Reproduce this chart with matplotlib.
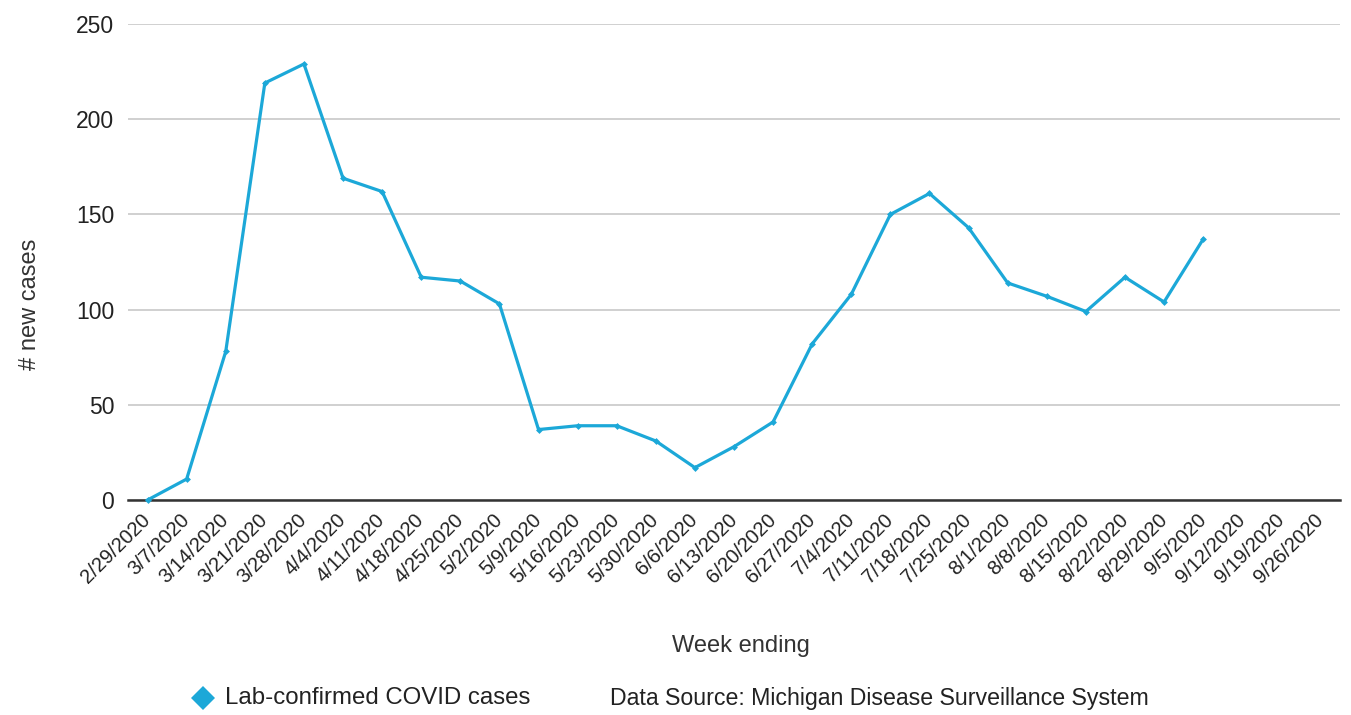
import matplotlib
matplotlib.use("Agg")
import matplotlib.pyplot as plt
from matplotlib.lines import Line2D

plt.rcParams['font.family'] = ['Liberation Sans', 'DejaVu Sans']

weeks = ["2/29/2020", "3/7/2020", "3/14/2020", "3/21/2020", "3/28/2020", "4/4/2020",
         "4/11/2020", "4/18/2020", "4/25/2020", "5/2/2020", "5/9/2020", "5/16/2020",
         "5/23/2020", "5/30/2020", "6/6/2020", "6/13/2020", "6/20/2020", "6/27/2020",
         "7/4/2020", "7/11/2020", "7/18/2020", "7/25/2020", "8/1/2020", "8/8/2020",
         "8/15/2020", "8/22/2020", "8/29/2020", "9/5/2020", "9/12/2020", "9/19/2020",
         "9/26/2020"]
cases = [0, 11, 78, 219, 229, 169, 162, 117, 115, 103, 37, 39, 39, 31, 17, 28, 41,
         82, 108, 150, 161, 143, 114, 107, 99, 117, 104, 137]
yticks = [0, 50, 100, 150, 200, 250]

color = '#1ca8d8'

fig = plt.figure(figsize=(13.51, 7.15), dpi=100)
ax = fig.add_axes([128/1351, 1-500/715, (1340-128)/1351, (500-24)/715])

x = list(range(len(cases)))
ax.plot(x, cases, color=color, lw=2.3, marker='D', markersize=3.5,
        markeredgewidth=0, solid_joinstyle='miter', zorder=3, clip_on=False)

ax.set_xlim(-0.5, len(weeks)-0.5)
ax.set_ylim(0, 250)
ax.set_yticks(yticks)
ax.set_yticklabels([str(v) for v in yticks], fontsize=16.5, color='#222222')
ax.set_xticks(range(len(weeks)))
ax.set_xticklabels(weeks, rotation=45, ha='right', va='center', rotation_mode='anchor',
                   fontsize=14.5, color='#222222')
ax.tick_params(axis='both', length=0)
ax.tick_params(axis='x', pad=12)
ax.tick_params(axis='y', pad=10)

ax.grid(axis='y', color='#c8c8c8', lw=1.2)
ax.set_axisbelow(True)
for s in ['left', 'right', 'top']:
    ax.spines[s].set_visible(False)
ax.spines['bottom'].set_color('#333333')
ax.spines['bottom'].set_linewidth(1.8)
ax.spines['bottom'].set_zorder(2)

fig.text(30/1351, 1-304/715, '# new cases', rotation=90, ha='center', va='center',
         fontsize=17, color='#333333')
fig.text(741/1351, 1-646/715, 'Week ending', ha='center', va='center',
         fontsize=17, color='#333333')

# legend
fig.lines.append(Line2D([203/1351], [1-698/715], transform=fig.transFigure,
                        marker='D', markersize=12, color=color, markeredgewidth=0))
fig.text(225/1351, 1-698/715, 'Lab-confirmed COVID cases', ha='left', va='center',
         fontsize=17.3, color='#222222')
fig.text(610/1351, 1-698/715, 'Data Source: Michigan Disease Surveillance System',
         ha='left', va='center', fontsize=16.7, color='#222222')

fig.savefig('out.png', dpi=100)
